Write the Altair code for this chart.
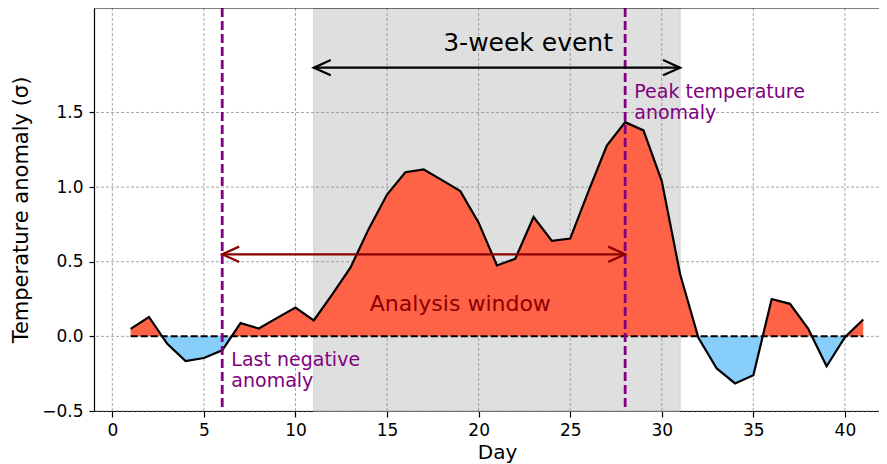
import altair as alt
import pandas as pd

# ---------------- data ----------------
days = list(range(1, 42))
anomaly = [0.05, 0.13, -0.05, -0.165, -0.145, -0.093, 0.089, 0.053, 0.124, 0.193,
           0.107, 0.28, 0.46, 0.72, 0.95, 1.10, 1.118, 1.047, 0.973, 0.762,
           0.475, 0.52, 0.80, 0.64, 0.655, 0.973, 1.278, 1.435, 1.38, 1.04,
           0.418, -0.01, -0.215, -0.315, -0.26, 0.25, 0.218, 0.05, -0.2, -0.005,
           0.113]
x_ticks = [0, 5, 10, 15, 20, 25, 30, 35, 40]
y_ticks = [-0.5, 0.0, 0.5, 1.0, 1.5]
event_span = [11, 31]
marker_days = [6, 28]
event_arrow_y = 1.8
window_arrow = [6, 28]
window_arrow_y = 0.55

W, H = 785, 403
X_DOMAIN = [-1, 41.86]
Y_DOMAIN = [-0.5, 2.2]
FONT = "DejaVu Sans"

# fill polygons split at zero crossings
fx, fv = [], []
for i in range(len(days)):
    if i > 0:
        v0, v1 = anomaly[i - 1], anomaly[i]
        if v0 * v1 < 0:
            fx.append(days[i - 1] + (days[i] - days[i - 1]) * v0 / (v0 - v1))
            fv.append(0.0)
    fx.append(days[i])
    fv.append(anomaly[i])
fill = pd.DataFrame({"x": fx,
                     "pos": [max(v, 0.0) for v in fv],
                     "neg": [min(v, 0.0) for v in fv],
                     "zero": [0.0] * len(fx)})
series = pd.DataFrame({"x": days, "y": anomaly})

xs = alt.Scale(domain=X_DOMAIN, nice=False, zero=False)
ys = alt.Scale(domain=Y_DOMAIN, nice=False, zero=False)

xaxis = alt.Axis(values=x_ticks, grid=False, domainColor="black", domainWidth=1.2,
                 tickColor="black", tickWidth=1.2, tickSize=6, labelFont=FONT,
                 labelFontSize=17, labelColor="black", labelPadding=5, labelFlush=False,
                 titleFont=FONT, titleFontSize=20, titleFontWeight="normal",
                 titleColor="black", titleX=403, titleY=47, titleBaseline="alphabetic",
                 titleAlign="center")
yaxis = alt.Axis(values=y_ticks, format=".1f", grid=False, domainColor="black",
                 domainWidth=1.2, tickColor="black", tickWidth=1.2, tickSize=5,
                 labelFont=FONT, labelFontSize=17, labelColor="black", labelPadding=6,
                 labelFlush=False, titleFont=FONT, titleFontSize=21,
                 titleFontWeight="normal", titleColor="black", titleX=-73, titleY=H / 2,
                 titleAngle=270, titleBaseline="middle", titleAlign="center")


def X(f):
    return alt.X(f, type="quantitative", scale=xs, axis=xaxis, title="Day")


def Y(f):
    return alt.Y(f, type="quantitative", scale=ys, axis=yaxis,
                 title="Temperature anomaly (σ)")


# span
span = alt.Chart(pd.DataFrame({"x": [event_span[0]], "x2": [event_span[1]]})).mark_rect(
    color="#dfdfdf", stroke="#d0d0d0", strokeWidth=1).encode(
    x=X("x"), x2="x2", y=alt.value(0), y2=alt.value(H))

# grid
gridx = alt.Chart(pd.DataFrame({"x": x_ticks})).mark_rule(
    color="#8f8f8f", strokeWidth=0.8, strokeDash=[3, 2]).encode(x=X("x"))
gridy = alt.Chart(pd.DataFrame({"y": y_ticks})).mark_rule(
    color="#8f8f8f", strokeWidth=0.8, strokeDash=[3, 2]).encode(y=Y("y"))

pos_area = alt.Chart(fill).mark_area(color="#ff6347", opacity=1, interpolate="linear").encode(
    x=X("x"), y=Y("pos"), y2="zero")
neg_area = alt.Chart(fill).mark_area(color="#87cefa", opacity=1, interpolate="linear").encode(
    x=X("x"), y=Y("neg"), y2="zero")

zero_line = alt.Chart(pd.DataFrame({"x": [days[0]], "x2": [days[-1]], "y": [0.0]})).mark_rule(
    color="black", strokeWidth=2, strokeDash=[7, 3]).encode(x=X("x"), x2="x2", y=Y("y"))

line = alt.Chart(series).mark_line(color="black", strokeWidth=2.2).encode(x=X("x"), y=Y("y"))

markers = alt.Chart(pd.DataFrame({"x": marker_days})).mark_rule(
    color="#800080", strokeWidth=2.8, strokeDash=[9, 4]).encode(x=X("x"))

arrows = pd.DataFrame({"x": [event_span[0], window_arrow[0]],
                       "x2": [event_span[1], window_arrow[1]],
                       "y": [event_arrow_y, window_arrow_y],
                       "c": ["black", "#8b0000"]})
arrow_lines = alt.Chart(arrows).mark_rule(strokeWidth=2.2).encode(
    x=X("x"), x2="x2", y=Y("y"), color=alt.Color("c:N", scale=None))

RIGHT = "M-1,-0.45L0,0L-1,0.45"
LEFT = "M1,-0.45L0,0L1,0.45"
heads = pd.DataFrame({"x": [event_span[0], event_span[1], window_arrow[0], window_arrow[1]],
                      "y": [event_arrow_y, event_arrow_y, window_arrow_y, window_arrow_y],
                      "s": [LEFT, RIGHT, LEFT, RIGHT],
                      "c": ["black", "black", "#8b0000", "#8b0000"]})
arrow_heads = alt.Chart(heads).mark_point(filled=False, strokeWidth=2.2, size=1156, opacity=1).encode(
    x=X("x"), y=Y("y"), shape=alt.Shape("s:N", scale=None), color=alt.Color("c:N", scale=None))

t_event = alt.Chart(pd.DataFrame({"x": [22.7], "y": [1.91], "t": ["3-week event"]})).mark_text(
    font=FONT, fontSize=25, color="black", align="center", baseline="alphabetic").encode(
    x=X("x"), y=Y("y"), text="t:N")
t_window = alt.Chart(pd.DataFrame({"x": [19.0], "y": [0.172], "t": ["Analysis window"]})).mark_text(
    font=FONT, fontSize=22, color="#8b0000", align="center", baseline="alphabetic").encode(
    x=X("x"), y=Y("y"), text="t:N")
t_purple = alt.Chart(pd.DataFrame({"x": [28.5, 6.5], "y": [1.7, -0.1],
                                   "t": ["Peak temperature\nanomaly", "Last negative\nanomaly"]})).mark_text(
    font=FONT, fontSize=19, color="#800080", align="left", baseline="top", lineBreak="\n",
    lineHeight=21).encode(x=X("x"), y=Y("y"), text="t:N")

top_border = alt.Chart(pd.DataFrame({"a": [0]})).mark_rule(color="black", strokeWidth=1.2).encode(
    x=alt.value(0), x2=alt.value(W), y=alt.value(0))

chart = alt.layer(span, gridx, gridy, pos_area, neg_area, zero_line, line, markers,
                  arrow_lines, arrow_heads, t_event, t_window, t_purple, top_border).properties(
    width=W, height=H,
    padding={"left": 86, "top": 0, "right": 0, "bottom": 53},
    autosize=alt.AutoSizeParams(type="none"),
).configure_view(stroke=None)

chart.save("out.html", embed_options={"renderer": "svg", "actions": False})
